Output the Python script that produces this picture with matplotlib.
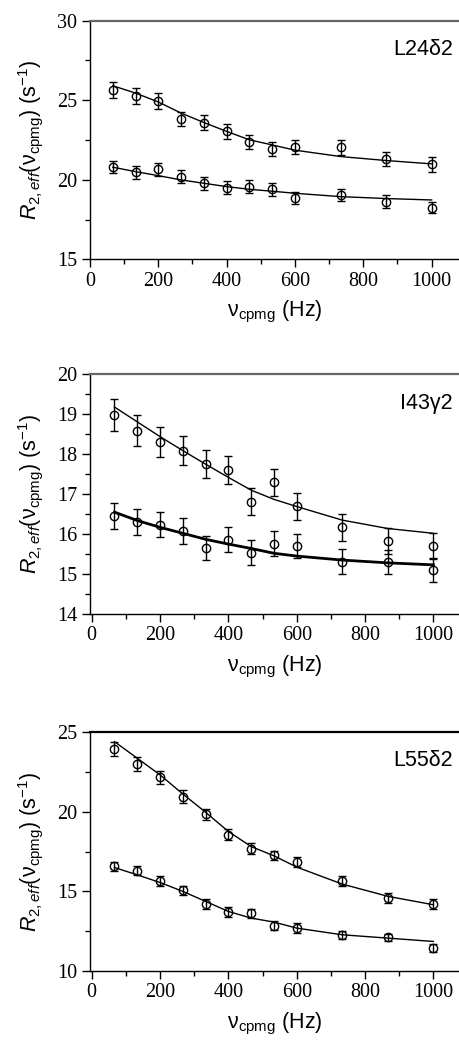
import matplotlib
matplotlib.use("Agg")
import matplotlib.pyplot as plt
from matplotlib.ticker import MultipleLocator

plt.rcParams['mathtext.fontset'] = 'custom'
plt.rcParams['mathtext.rm'] = 'Liberation Sans'
plt.rcParams['mathtext.it'] = 'Liberation Sans:italic'
plt.rcParams['mathtext.bf'] = 'Liberation Sans:bold'

# ---------------- data ----------------
nu_cpmg = [66.7, 133.3, 200, 266.7, 333.3, 400, 466.7, 533.3, 600, 733.3, 866.7, 1000]

# L24d2
l24_hi = [25.62, 25.26, 24.97, 23.81, 23.60, 23.04, 22.37, 21.94, 22.05, 22.03, 21.32, 20.96]
l24_hi_err = [0.5, 0.5, 0.5, 0.45, 0.45, 0.45, 0.45, 0.45, 0.45, 0.45, 0.45, 0.45]
l24_lo = [20.81, 20.47, 20.66, 20.20, 19.78, 19.51, 19.57, 19.41, 18.85, 19.04, 18.62, 18.23]
l24_lo_err = [0.4, 0.4, 0.4, 0.4, 0.4, 0.4, 0.4, 0.4, 0.4, 0.4, 0.4, 0.35]
l24_hi_fit = [25.91, 25.45, 24.89, 24.19, 23.60, 23.04, 22.51, 22.19, 21.86, 21.46, 21.21, 21.00]
l24_lo_fit = [20.79, 20.51, 20.26, 19.99, 19.78, 19.57, 19.40, 19.28, 19.15, 18.94, 18.82, 18.73]

# I43g2
i43_hi = [18.98, 18.59, 18.30, 18.09, 17.75, 17.60, 16.81, 17.30, 16.70, 16.17, 15.83, 15.70]
i43_hi_err = [0.39, 0.38, 0.37, 0.36, 0.35, 0.35, 0.34, 0.34, 0.34, 0.34, 0.33, 0.33]
i43_lo = [16.45, 16.30, 16.24, 16.08, 15.65, 15.86, 15.53, 15.76, 15.70, 15.31, 15.30, 15.10]
i43_lo_err = [0.32, 0.32, 0.32, 0.32, 0.31, 0.31, 0.31, 0.31, 0.31, 0.31, 0.30, 0.30]
i43_hi_fit = [19.18, 18.81, 18.44, 18.09, 17.75, 17.42, 17.10, 16.87, 16.69, 16.35, 16.14, 16.02]
i43_lo_fit = [16.55, 16.34, 16.17, 16.02, 15.87, 15.75, 15.64, 15.52, 15.45, 15.35, 15.28, 15.23]

# L55d2
l55_hi = [23.95, 23.01, 22.17, 20.95, 19.85, 18.55, 17.67, 17.25, 16.83, 15.66, 14.57, 14.21]
l55_hi_err = [0.45, 0.45, 0.4, 0.4, 0.35, 0.35, 0.35, 0.3, 0.3, 0.3, 0.3, 0.3]
l55_lo = [16.56, 16.29, 15.63, 15.05, 14.21, 13.69, 13.60, 12.83, 12.70, 12.26, 12.09, 11.42]
l55_lo_err = [0.3, 0.3, 0.3, 0.3, 0.3, 0.3, 0.3, 0.3, 0.3, 0.25, 0.25, 0.25]
l55_hi_fit = [24.41, 23.37, 22.32, 21.12, 19.97, 18.76, 17.81, 17.23, 16.52, 15.45, 14.68, 14.15]
l55_lo_fit = [16.49, 16.03, 15.55, 14.99, 14.36, 13.73, 13.31, 13.06, 12.68, 12.26, 12.05, 11.84]

panel_names = ['L24δ2', 'I43γ2', 'L55δ2']
y_limits = [(15, 30), (14, 20), (10, 25)]
y_major = [5, 1, 5]
y_minor = [2.5, 0.5, 2.5]
x_ticks = [0, 200, 400, 600, 800, 1000]

panels = [
    (l24_hi, l24_hi_err, l24_lo, l24_lo_err, l24_hi_fit, l24_lo_fit),
    (i43_hi, i43_hi_err, i43_lo, i43_lo_err, i43_hi_fit, i43_lo_fit),
    (l55_hi, l55_hi_err, l55_lo, l55_lo_err, l55_hi_fit, l55_lo_fit),
]

# ---------------- layout ----------------
fig = plt.figure(figsize=(4.6, 10.4), dpi=100)
W, H = 460.0, 1040.0
# (left px, top px, bottom px, xmin, xmax)
geo = [
    (90.0, 20.7, 259.3, 0, 1083),
    (90.0, 374.3, 614.0, -5, 1078),
    (90.0, 732.3, 970.7, -5, 1078),
]
top_colors = ['#666666', '#666666', 'black']
lo_fit_lw = [1.0, 2.0, 1.0]

serif = 'Liberation Serif'
sans = 'Liberation Sans'

for i, (hi, hie, lo, loe, hif, lof) in enumerate(panels):
    lpx, tpx, bpx, x0, x1 = geo[i]
    ax = fig.add_axes([lpx / W, 1 - bpx / H, 1 - lpx / W, (bpx - tpx) / H])
    ax.set_xlim(x0, x1)
    ax.set_ylim(*y_limits[i])

    ax.plot(nu_cpmg, hif, color='black', lw=1.0, zorder=2)
    ax.plot(nu_cpmg, lof, color='black', lw=lo_fit_lw[i], zorder=2)
    for y, e in ((hi, hie), (lo, loe)):
        ax.errorbar(nu_cpmg, y, yerr=e, fmt='o', mfc='none', mec='black',
                    ms=6, mew=1.0, ecolor='black', elinewidth=1.0,
                    capsize=3, capthick=1.0, zorder=3)

    ax.spines['right'].set_visible(False)
    ax.spines['top'].set_color(top_colors[i])
    ax.spines['top'].set_linewidth(1.6)
    ax.spines['left'].set_linewidth(1.0)
    ax.spines['bottom'].set_linewidth(1.0)

    ax.set_xticks(x_ticks)
    ax.xaxis.set_minor_locator(MultipleLocator(100))
    ax.yaxis.set_major_locator(MultipleLocator(y_major[i]))
    ax.yaxis.set_minor_locator(MultipleLocator(y_minor[i]))
    ax.tick_params(which='major', direction='out', length=6, width=1.0,
                   labelsize=14.5, top=False, right=False, pad=3)
    ax.tick_params(which='minor', direction='out', length=3.5, width=1.0,
                   top=False, right=False)
    for lab in ax.get_xticklabels() + ax.get_yticklabels():
        lab.set_fontfamily(serif)

    ax.set_xlabel('ν$_{\\rm cpmg}$ (Hz)', fontsize=15.5, family=sans, labelpad=6)
    ax.set_ylabel('$R_{2,eff}$(ν$_{\\rm cpmg}$) (s$^{-1}$)', fontsize=15.5,
                  family=sans, labelpad=9)

    ax.text(0.981, 0.88, panel_names[i], transform=ax.transAxes,
            ha='right', va='center', fontsize=15.5, family=sans)

fig.savefig('out.png', dpi=100)
